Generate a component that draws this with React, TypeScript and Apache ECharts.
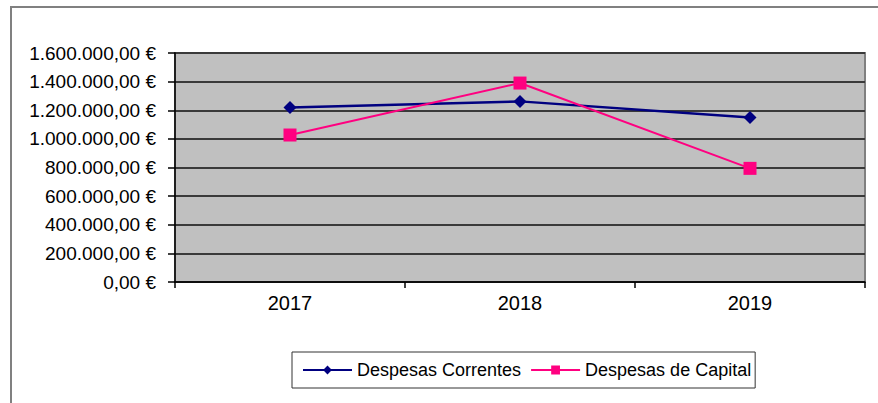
import React, { useEffect, useRef } from "react";
import * as echarts from "echarts";

const categories = ["2017", "2018", "2019"];
const despesasCorrentes = [1220000, 1262000, 1150000];
const despesasCapital = [1027000, 1390000, 794000];
const yMin = 0;
const yMax = 1600000;
const yStep = 200000;

function fmtEuro(v: number): string {
  const int = Math.round(v).toString().replace(/\B(?=(\d{3})+(?!\d))/g, ".");
  return int + ",00 €";
}

export default function App() {
  const ref = useRef<HTMLDivElement>(null);
  useEffect(() => {
    document.body.style.margin = "0";
    const chart = echarts.init(ref.current!, null, { renderer: "svg" });
    const font = "Liberation Sans, Arial, sans-serif";
    chart.setOption({
      animation: false,
      backgroundColor: "#ffffff",
      textStyle: { fontFamily: font },
      grid: {
        left: 175,
        top: 53,
        width: 690,
        height: 229,
        show: true,
        backgroundColor: "#c0c0c0",
        borderColor: "#808080",
        borderWidth: 2,
      },
      graphic: [
        {
          type: "polyline",
          shape: { points: [[11, 403], [11, 7], [878, 7]] },
          style: { stroke: "#808080", lineWidth: 2, fill: "none" },
          silent: true,
        },
      ],
      legend: {
        left: 292,
        top: 352,
        orient: "horizontal",
        borderColor: "#333333",
        borderWidth: 1,
        padding: [9, 4, 9, 10],
        itemGap: 9,
        itemWidth: 49,
        itemHeight: 11,
        textStyle: { fontSize: 18, color: "#000", fontFamily: font },
        data: ["Despesas Correntes", "Despesas de Capital"],
      },
      xAxis: {
        type: "category",
        data: categories,
        boundaryGap: true,
        axisLine: { show: true, lineStyle: { color: "#000", width: 1.5 } },
        axisTick: { show: true, length: 6, lineStyle: { color: "#000", width: 1.5 } },
        axisLabel: { fontSize: 20, color: "#000", margin: 11, fontFamily: font },
        splitLine: { show: false },
      },
      yAxis: {
        type: "value",
        min: yMin,
        max: yMax,
        interval: yStep,
        axisLine: { show: true, lineStyle: { color: "#000", width: 1.5 } },
        axisTick: { show: true, length: 7, lineStyle: { color: "#000", width: 1.5 } },
        axisLabel: {
          fontSize: 19,
          color: "#000",
          margin: 19,
          fontFamily: font,
          formatter: (v: number) => fmtEuro(v),
        },
        splitLine: { show: true, lineStyle: { color: "#3a3a3a", width: 2 } },
      },
      series: [
        {
          name: "Despesas Correntes",
          type: "line",
          data: despesasCorrentes,
          symbol: "diamond",
          symbolSize: 13,
          itemStyle: { color: "#000080" },
          lineStyle: { color: "#000080", width: 2.5 },
        },
        {
          name: "Despesas de Capital",
          type: "line",
          data: despesasCapital,
          symbol: "rect",
          symbolSize: 13,
          itemStyle: { color: "#ff0080" },
          lineStyle: { color: "#ff0080", width: 2 },
        },
      ],
    });
    return () => chart.dispose();
  }, []);
  return <div ref={ref} style={{ width: 878, height: 403 }} />;
}
